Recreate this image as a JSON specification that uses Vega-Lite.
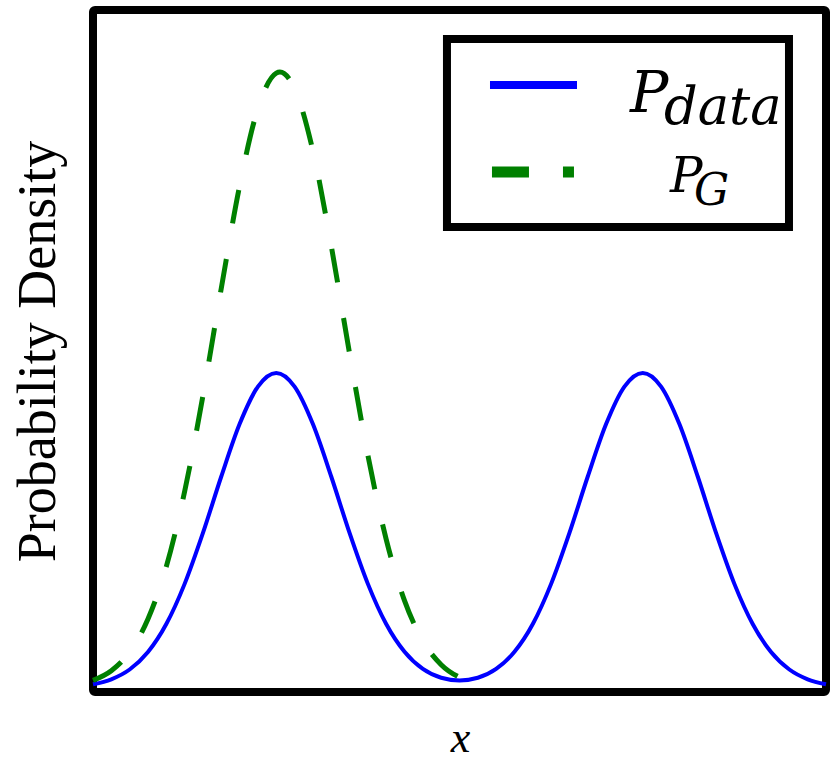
{
  "$schema": "https://vega.github.io/schema/vega-lite/v6.json",
  "width": 733,
  "height": 682,
  "autosize": {"type": "none"},
  "padding": {"left": 93, "top": 10, "right": 5, "bottom": 65},
  "background": "white",
  "config": {"view": {"stroke": "black", "strokeWidth": 8, "cornerRadius": 2}},
  "datasets": {
    "curves": [
      {"series": "P_data", "x": 0, "y": 0.0119},
      {"series": "P_data", "x": 0.025, "y": 0.0277},
      {"series": "P_data", "x": 0.05, "y": 0.0587},
      {"series": "P_data", "x": 0.075, "y": 0.1142},
      {"series": "P_data", "x": 0.1, "y": 0.203},
      {"series": "P_data", "x": 0.125, "y": 0.3305},
      {"series": "P_data", "x": 0.15, "y": 0.4923},
      {"series": "P_data", "x": 0.175, "y": 0.6713},
      {"series": "P_data", "x": 0.2, "y": 0.8377},
      {"series": "P_data", "x": 0.225, "y": 0.9567},
      {"series": "P_data", "x": 0.25, "y": 1.0},
      {"series": "P_data", "x": 0.275, "y": 0.9567},
      {"series": "P_data", "x": 0.3, "y": 0.8377},
      {"series": "P_data", "x": 0.325, "y": 0.6713},
      {"series": "P_data", "x": 0.35, "y": 0.4923},
      {"series": "P_data", "x": 0.375, "y": 0.3305},
      {"series": "P_data", "x": 0.4, "y": 0.203},
      {"series": "P_data", "x": 0.425, "y": 0.1148},
      {"series": "P_data", "x": 0.45, "y": 0.0604},
      {"series": "P_data", "x": 0.475, "y": 0.0324},
      {"series": "P_data", "x": 0.5, "y": 0.0238},
      {"series": "P_data", "x": 0.525, "y": 0.0324},
      {"series": "P_data", "x": 0.55, "y": 0.0604},
      {"series": "P_data", "x": 0.575, "y": 0.1148},
      {"series": "P_data", "x": 0.6, "y": 0.203},
      {"series": "P_data", "x": 0.625, "y": 0.3305},
      {"series": "P_data", "x": 0.65, "y": 0.4923},
      {"series": "P_data", "x": 0.675, "y": 0.6713},
      {"series": "P_data", "x": 0.7, "y": 0.8377},
      {"series": "P_data", "x": 0.725, "y": 0.9567},
      {"series": "P_data", "x": 0.75, "y": 1.0},
      {"series": "P_data", "x": 0.775, "y": 0.9567},
      {"series": "P_data", "x": 0.8, "y": 0.8377},
      {"series": "P_data", "x": 0.825, "y": 0.6713},
      {"series": "P_data", "x": 0.85, "y": 0.4923},
      {"series": "P_data", "x": 0.875, "y": 0.3305},
      {"series": "P_data", "x": 0.9, "y": 0.203},
      {"series": "P_data", "x": 0.925, "y": 0.1142},
      {"series": "P_data", "x": 0.95, "y": 0.0587},
      {"series": "P_data", "x": 0.975, "y": 0.0277},
      {"series": "P_data", "x": 1.0, "y": 0.0119},
      {"series": "P_G", "x": 0, "y": 0.0241},
      {"series": "P_G", "x": 0.025, "y": 0.0547},
      {"series": "P_G", "x": 0.05, "y": 0.1141},
      {"series": "P_G", "x": 0.075, "y": 0.2188},
      {"series": "P_G", "x": 0.1, "y": 0.3853},
      {"series": "P_G", "x": 0.125, "y": 0.6236},
      {"series": "P_G", "x": 0.15, "y": 0.9279},
      {"series": "P_G", "x": 0.175, "y": 1.2684},
      {"series": "P_G", "x": 0.2, "y": 1.5935},
      {"series": "P_G", "x": 0.225, "y": 1.8397},
      {"series": "P_G", "x": 0.25, "y": 1.9517},
      {"series": "P_G", "x": 0.255, "y": 1.955},
      {"series": "P_G", "x": 0.275, "y": 1.9028},
      {"series": "P_G", "x": 0.3, "y": 1.705},
      {"series": "P_G", "x": 0.325, "y": 1.4037},
      {"series": "P_G", "x": 0.35, "y": 1.0622},
      {"series": "P_G", "x": 0.375, "y": 0.7386},
      {"series": "P_G", "x": 0.4, "y": 0.4719},
      {"series": "P_G", "x": 0.425, "y": 0.2771},
      {"series": "P_G", "x": 0.45, "y": 0.1495},
      {"series": "P_G", "x": 0.475, "y": 0.0741},
      {"series": "P_G", "x": 0.5, "y": 0.0338},
      {"series": "P_G", "x": 0.525, "y": 0.0142}
    ],
    "legendBox": [{"x": 0.4829, "x2": 0.9495, "y": 2.06, "y2": 1.4635}],
    "legendSamples": [
      {"series": "P_data", "x": 0.5416, "x2": 0.6603, "y": 1.914},
      {"series": "P_G", "x": 0.5443, "x2": 0.6562, "y": 1.638}
    ],
    "legendLabels": [
      {"part": "a", "label": "P", "x": 0.7326, "y": 1.8286},
      {"part": "b", "label": "data", "x": 0.779, "y": 1.7905},
      {"part": "c", "label": "P", "x": 0.7872, "y": 1.5746},
      {"part": "d", "label": "G", "x": 0.8199, "y": 1.5333}
    ]
  },
  "encoding": {
    "x": {
      "field": "x",
      "type": "quantitative",
      "scale": {"domain": [0, 1], "nice": false, "zero": false},
      "axis": {
        "title": "x",
        "domain": false,
        "ticks": false,
        "labels": false,
        "grid": false,
        "titleFont": "'Liberation Serif', 'DejaVu Serif', serif",
        "titleFontStyle": "italic",
        "titleFontWeight": "normal",
        "titleFontSize": 44,
        "titleColor": "black",
        "titleBaseline": "alphabetic",
        "titleAlign": "center",
        "titleX": 367,
        "titleY": 59
      }
    },
    "y": {
      "field": "y",
      "type": "quantitative",
      "scale": {"domain": [-0.0127, 2.152], "nice": false, "zero": false},
      "axis": {
        "title": "Probability Density",
        "domain": false,
        "ticks": false,
        "labels": false,
        "grid": false,
        "titleFont": "'Liberation Serif', 'DejaVu Serif', serif",
        "titleFontWeight": "normal",
        "titleFontSize": 54,
        "titleColor": "black",
        "titleAngle": -90,
        "titleBaseline": "alphabetic",
        "titleAlign": "center",
        "titleX": -39,
        "titleY": 341
      }
    }
  },
  "layer": [
    {
      "data": {"name": "curves"},
      "transform": [{"filter": "datum.series === 'P_data'"}],
      "mark": {"type": "line", "color": "#0000ff", "strokeWidth": 4, "interpolate": "monotone"}
    },
    {
      "data": {"name": "curves"},
      "transform": [{"filter": "datum.series === 'P_G'"}],
      "mark": {"type": "line", "color": "#008000", "strokeWidth": 5, "interpolate": "monotone", "strokeDash": [34, 36]}
    },
    {
      "data": {"name": "legendBox"},
      "mark": {"type": "rect", "fill": "white", "stroke": "black", "strokeWidth": 8},
      "encoding": {"x2": {"field": "x2"}, "y2": {"field": "y2"}}
    },
    {
      "data": {"name": "legendSamples"},
      "transform": [{"filter": "datum.series === 'P_data'"}],
      "mark": {"type": "rule", "color": "#0000ff", "strokeWidth": 8},
      "encoding": {"x2": {"field": "x2"}}
    },
    {
      "data": {"name": "legendSamples"},
      "transform": [{"filter": "datum.series === 'P_G'"}],
      "mark": {"type": "rule", "color": "#008000", "strokeWidth": 11, "strokeDash": [37, 34, 11, 100]},
      "encoding": {"x2": {"field": "x2"}}
    },
    {
      "data": {"name": "legendLabels"},
      "mark": {"type": "text", "font": "'DejaVu Serif', serif", "fontStyle": "italic", "align": "left", "baseline": "alphabetic", "color": "black"},
      "encoding": {
        "text": {"field": "label"},
        "size": {"field": "part", "type": "nominal", "scale": {"domain": ["a", "b", "c", "d"], "range": [57, 44, 48, 41]}, "legend": null}
      }
    }
  ]
}
